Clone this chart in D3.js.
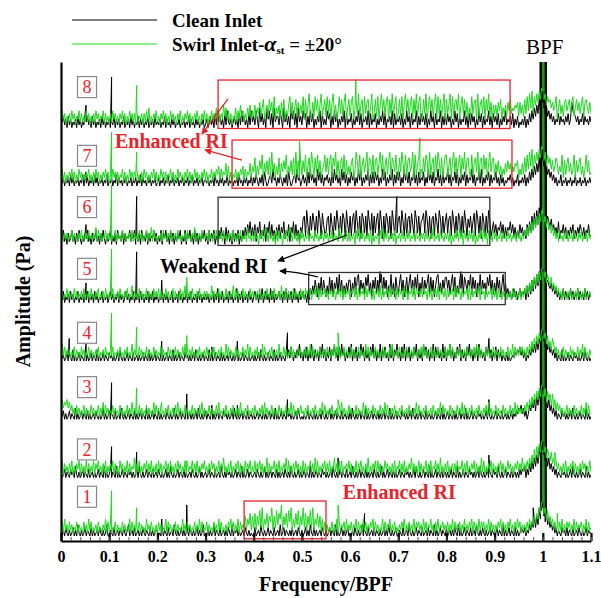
<!DOCTYPE html>
<html>
<head>
<meta charset="utf-8">
<script src="https://cdn.jsdelivr.net/npm/d3@7"></script>
<style>
  body { margin: 0; background: #fff; }
  text { font-family: "Liberation Serif", "Times New Roman", serif; }
</style>
</head>
<body>
<script>
"use strict";

// ---- data -------------------------------------------------------------
// broadband spectra: one chunk per 0.1 BPF, one hex digit per bin (0.0025 BPF),
// amplitude in arbitrary units above each trace's baseline; last entry is 1.1.
// Index 0 = probe 1 (bottom trace).
var chunkWidth = 0.1;
var traceLabels = ["1", "2", "3", "4", "5", "6", "7", "8"];
var traceStep = 20.7;   // vertical spacing between spectra
var traceBase = 1.8;

var cleanNoise = [
  ["1020310201302041020130210302012031020140","0210301202103102401203012020310210302012","2010302103012041020130201203102013020140","1030201402103012020310402130201203102010","0301204102013021030120401302102030120310","2013020410302012031020130210402013020130","1020310201402103012030210201302041020130","0210301204102013021030120302104020130210","3012020310402013021030120410203102013021","0130210402013021030201321302142536374a69","a758463524130210312030210301203102013021","1"],
  ["2013021031204102013021030120201302104020","1302104020130210312020130410201302103012","0310201302041020130210302012031020140201","2013021030120410203120201302104020130210","1203102014020130210302012031020410201302","0130210402013021031202013041020130210301","2041020130210302012031020140201302103020","1302103120201304102013021040201302103012","0201302104020130210312020130410201302103","1204102013021030120203132403152637485b7a","a869473524130210312020130410201302104020","1"],
  ["4130201302104020130210302012031020140201","3021030120410201302103020130210402013021","0302012031020140201302103012020130410201","3021040201302103120201304102013021030120","2013021030201302104020130210312020130410","1020130210302012031020140201302103012020","3041020130210402013021030201302104020130","2103120201304102013021030120201302104020","1302103020130210402013021031202013041020","1302103012020130213243524130253647385a69","a968473524130210312020130410201302104020","1"],
  ["3120130210402013021030201302104020130210","3120201304102013021030120201302104020130","2103020130210402013021031202013041020130","2104020130210302012031020140201302103012","0201304102013021040201302103141520314261","3041503162041305261403150426130516240315","2604150316250413052614031604251306150426","1305160425031526041306251403160524130615","0426140315260413052614031506241305261403","1504130210302012132435241302142536374869","9758463524130210402013021031202013041020","1"],
  ["3140213041302140213031402130413021402130","2413021403130241302140213041302140314021","3021403130214021304130214031402130413021","3130214031503140213041302150314021304130","2413031502413051403124130415031402513041","2413041536385274938526394827593a48263748","8274939a3857396a4728593847a3958264a37295","37a4825937a48395a27493857a3948269a473859","95837a4926385a397486a3958274a3857396a483","7395826a473524135241352435162738495a6b7c","b9a7865746352413251423152413251423152413","2"],
  ["4251304125130415203142513041251304152031","2503140523150413251425031405231504132514","0315042513051403142503150425130514031425","1305142503152634062513051425031526374836","3716482537164827351637264825371648273516","49a3c72a5b83a4c92b7449a3b72a5c83a4b92c74","a39b4c83a2b94a3c84b3a49b3c82a3b94a2c83b4","9a4c83b39a4b73c94a389b4c93a29a3b84c93a48","b49a3c84a3b93a4c8396a48b3c94a2b83a4c9358","4736584726365847362537463527384a5b6c7d8e","d9b7a86957463825473625364725364753625473","3"],
  ["4130213041302130214041302130413021302140","2130214031203130213021302140312031302130","1302130214021302130213021302140213021302","2130213041203130214021302130412031302140","3142031405201341623031420314052013416230","2413051624130625140324130516241306251403","1524031625031426041515240316250314260415","2503162415032614051325031624150326140513","2614032516031425041326140325160314250413","2513041302132413021402131403152637485a6b","9758463524130214021302130214021302130213","1"],
  ["5241304130213041302152413041302130413021","3021403130214021304130214031302140213041","2130214031203130213021302140312031302130","1302413051624130516213024130516241305162","4163072514073615072441630725140736150724","1635041625031426051316350416250314260513","2503142615032416051325031426150324160513","2415031624051326041524150316240513260415","1524031625041326140515240316250413261405","2415031426132415031402131403152637485a6b","9758463524132514231425139654241325142314","2"]
];

var swirlNoise = [
  ["3516241524132514231524162513241523142615","2413251423152413261524132514231624152314","1524132615241325142316241524132514261523","2514231524162513241536251426152437264827","3827493a2648375a2739486b2748395a26384927","4a3827493a264837261524132514261524351624","2514361524162514253615241326152436142513","1425361425142615352416251436241526143524","2514261524351426142536152416253514261524","1425361524153624152635142415263547586a8c","c8a6957463524152614253514261524351426152","3"],
  ["4615241526142536152416251426153624152614","2536152416351426152437152614253615261425","1625143625162415263514261524361526142536","2415263514261537241526142536152416253614","2615362514271524361526142537162415263514","1625143625172614253615261437251626143526","2514261536241527142536162514263524152614","3615261425371524162514361526143625172415","2614352516243615261425361524172614253615","241536251426352415362537253637485a6b7c9d","d9b7a86957463524152614253615241526351426","2"],
  ["5746574635241524132514231524132514261524","1325142315241325142614231524132514231625","2415231425132415261423152413251423152614","1325142315261324152314251324162314251324","1523142516241325142315241325142615231425","2314251324152314261523142513241526142315","2413251423162514231524132514261523142513","1425132415231426152314251324152314261524","2315241325142615231425132415231425162413","25142315241325142615242425363748596a7b8c","c8b6a79584736352413251423152413251426152","2"],
  ["3625142413251423152413251423142513241523","1425132415231425132614231524132514231524","1325142315241325142315261324152314251324","1523142513241523162514231524132514261523","1425132415231425132416231524132514231524","1325142615231425132415231426152413251423","1524132514231625142315241325142315261324","1523142513241523142516241325142315241325","1426152314251324152314251625142315241325","1423152413251426152425352415263748596a7b","b8a6957486352413251423152413251426152314","2"],
  ["2413251423152413241513241523142513241523","1425132415231425132614231524132514231524","2514231524132514231514261324152314251324","1423152413251423152413261524132514231524","2314251324152314251324162315241325142315","2415342514352615243524153425143526152435","1435261524351625341514352615243516253415","2534162514352615342525341625143526153425","1524351625341524351615243526153415243516","24152314251324152413251425363748596a7b8c","c9b7a86957463524152314251324152314251324","2"],
  ["3514241325142314251324152314261524132514","2413251423152413241514231524132514261523","1324152314251324152313241523142613241523","2415231425132415231424152314251324162314","1523042513641523140515230425136415231405","2413251423152413251424132514231624132514","1324052614251324150313240526142513241503","2415231425132415231424152314261324152314","2415031425162405231524150314251624052315","24132514231524132415231425363748596a7b8c","b8a6957463524152314251324152314251324152","2"],
  ["3625142536251426352425362415263514253625","1426352514362514263525362415263514253625","1426352514362514263524153625142635241536","2514362536472635483725143625364726354837","5a37496b38594a3c58374a38596b37594a3c4938","495b37a4c83a5b49367b5a49b3a7c4938a5b3947","48a35c94b37a58c3a94b39a48c5b37a49c3a85b4","3a5c84b39a57c3b48a364a5b93c48a3b5c94a37b","b47a39c5a48b3a6c49a53b48a5c39a4b6a38c59a","3859473648596847587936484a5b6c7d5b8c9dae","d9c7b8a6957a8475b3948a5846b3958a4736b594","5"],
  ["2635142526351436252426351425263514362524","1526352415362514263525162435152637142536","2415362514263524153614253625142536241536","2514263537462538473625143726384625374836","48375947a3584a694b3758394a3648b5937a4958","5b3a48c5394b6a38c47a4b5a39c4836b5a49c37a","49b36a5c48a3b59a47c35a4b38c6a49b3a5c48b3","5a4b39c6a48b3a5c49b34a5c38b6a49c3b5a48c3","a58c3b49a6c38b5a49374b59a3c48a5b3a6c4938","58496a3758496a57687949584a5b6c7d5b8c9dae","dac8b9a7968b37a5849a68a59b47a6958b49a759","5"]
];

// narrow-band tones (shaft harmonics etc.): [frequency/BPF, amplitude]
var cleanTones = [
  [[0.209, 6], [0.261, 11], [0.63, 8], [0.98, 10]],
  [[0.105, 11], [0.157, 9], [0.575, 7], [0.888, 8]],
  [[0.105, 13], [0.261, 9], [0.313, 5], [0.366, 5], [0.47, 7], [0.888, 7]],
  [[0.017, 8], [0.052, 6], [0.209, 7], [0.313, 5], [0.366, 7], [0.47, 10], [0.888, 8]],
  [[0.052, 7], [0.157, 18], [0.209, 8], [0.662, 11], [0.83, 11]],
  [[0.052, 7], [0.157, 17], [0.697, 17]],
  [[0.052, 5]],
  [[0.052, 8], [0.105, 18]]
];
var swirlTones = [
  [[0.105, 16], [0.157, 10], [0.575, 11], [1.03, 8]],
  [[0.261, 6], [0.366, 5], [1.025, 9]],
  [[0.157, 11], [0.209, 6], [0.418, 5], [0.575, 7], [1.02, 9]],
  [[0.105, 17], [0.157, 12], [0.261, 9], [0.418, 6], [0.575, 10]],
  [[0.105, 19], [0.261, 9], [0.313, 6]],
  [[0.105, 21]],
  [[0.105, 19], [0.157, 12], [0.495, 16], [0.745, 17]],
  [[0.157, 15], [0.612, 17]]
];

// blade passing frequency peak, far above the plotted range
var bpfAmp = 200;
var bpfClean = [0.995, 0.997, 0.999, 1.001, 1.003, 1.005];
var bpfSwirl = [1.0];

// highlighted regions: trace index, frequency range, amplitude range
var regions = [
  { trace: 7, from: 0.326, to: 0.932, lo: -0.3, hi: 16.9, kind: "enhanced" },
  { trace: 6, from: 0.355, to: 0.936, lo: -0.8, hi: 16.3, kind: "enhanced" },
  { trace: 5, from: 0.326, to: 0.890, lo: -0.4, hi: 16.7, kind: "weakened" },
  { trace: 4, from: 0.514, to: 0.922, lo: -0.7, hi: 10.7, kind: "weakened" },
  { trace: 0, from: 0.380, to: 0.550, lo: -1.0, hi: 12.4, kind: "enhanced" }
];

var xTickValues = [0, 0.1, 0.2, 0.3, 0.4, 0.5, 0.6, 0.7, 0.8, 0.9, 1, 1.1];

// ---- layout -------------------------------------------------------------
var W = 601, H = 598;
var plot = { left: 61, right: 591, top: 62, bottom: 541 };
var labelLift = [13.9, 10, 11.4, 10, 12, 13.2, 10.7, 14.4];
var red = "#e8232a", green = "#1ed81e";

var x = d3.scaleLinear().domain([0, 1.1]).range([plot.left, plot.right]);
var y = d3.scaleLinear().domain([0, 170]).range([plot.bottom, plot.top]);

var svg = d3.select("body").append("svg")
  .attr("width", W).attr("height", H);

var defs = svg.append("defs");
defs.append("clipPath").attr("id", "clip")
  .append("rect")
  .attr("x", plot.left).attr("y", plot.top)
  .attr("width", plot.right - plot.left).attr("height", plot.bottom - plot.top);
[["arrowRed", red], ["arrowBlack", "#000"]].forEach(function (m) {
  defs.append("marker").attr("id", m[0])
    .attr("viewBox", "0 0 10 10").attr("refX", 9).attr("refY", 5)
    .attr("markerWidth", 9).attr("markerHeight", 7)
    .attr("markerUnits", "userSpaceOnUse")
    .attr("orient", "auto")
    .append("path").attr("d", "M0,0 L10,5 L0,10 Z").attr("fill", m[1]);
});

function offset(i) { return traceBase + i * traceStep; }

function buildSeries(chunks, tones, bpf) {
  var pts = [];
  chunks.forEach(function (c, k) {
    var step = chunkWidth / c.length;
    c.split("").forEach(function (ch, j) {
      pts.push([k * chunkWidth + j * step, parseInt(ch, 16)]);
    });
  });
  tones.forEach(function (t) { pts.push([t[0], t[1]]); });
  bpf.forEach(function (f) { pts.push([f, bpfAmp]); });
  pts.sort(function (a, b) { return a[0] - b[0]; });
  return pts;
}

var traces = svg.append("g").attr("clip-path", "url(#clip)");

traceLabels.forEach(function (lab, i) {
  var line = d3.line()
    .x(function (d) { return x(d[0]); })
    .y(function (d) { return y(offset(i) + d[1]); });
  var g = traces.append("g").attr("class", "trace-" + lab);
  g.append("path")
    .datum(buildSeries(cleanNoise[i], cleanTones[i], bpfClean))
    .attr("fill", "none").attr("stroke", "#000").attr("stroke-width", 1)
    .attr("d", line);
  g.append("path")
    .datum(buildSeries(swirlNoise[i], swirlTones[i], bpfSwirl))
    .attr("fill", "none").attr("stroke", green).attr("stroke-width", 1)
    .attr("d", line);
});

// highlight boxes
svg.append("g").selectAll("rect")
  .data(regions).enter().append("rect")
  .attr("x", function (d) { return x(d.from); })
  .attr("y", function (d) { return y(offset(d.trace) + d.hi); })
  .attr("width", function (d) { return x(d.to) - x(d.from); })
  .attr("height", function (d) { return y(offset(d.trace) + d.lo) - y(offset(d.trace) + d.hi); })
  .attr("fill", "none")
  .attr("stroke", function (d) { return d.kind === "enhanced" ? red : "#333"; })
  .attr("stroke-width", 1.3);

// trace number boxes
var tags = svg.append("g").selectAll("g")
  .data(traceLabels).enter().append("g")
  .attr("transform", function (d, i) {
    return "translate(" + x(0.054) + "," + y(offset(i) + labelLift[i]) + ")";
  });
tags.append("rect")
  .attr("x", -9.5).attr("y", -10.5).attr("width", 19).attr("height", 21)
  .attr("fill", "#fff").attr("stroke", "#888").attr("stroke-width", 1.2);
tags.append("text")
  .attr("text-anchor", "middle").attr("dy", "0.35em")
  .attr("fill", red).style("font-size", "18px")
  .text(function (d) { return d; });

// axes
var xAxis = d3.axisBottom(x).tickValues(xTickValues)
  .tickSize(-8).tickSizeOuter(0).tickPadding(10)
  .tickFormat(d3.format("~g"));
var gx = svg.append("g").attr("transform", "translate(0," + plot.bottom + ")").call(xAxis);
gx.select(".domain").attr("stroke-width", 2.2);
gx.selectAll(".tick line").attr("stroke-width", 2.2);
gx.selectAll(".tick text")
  .style("font-family", "'Liberation Serif', serif")
  .style("font-size", "16px").style("font-weight", "bold").attr("fill", "#000");

var minor = d3.range(0, 1.1001, 0.02);
var gm = svg.append("g").attr("transform", "translate(0," + plot.bottom + ")")
  .call(d3.axisBottom(x).tickValues(minor).tickSize(-4).tickSizeOuter(0).tickFormat(""));
gm.select(".domain").remove();
gm.selectAll(".tick line").attr("stroke", "#555");

var gy = svg.append("g").attr("transform", "translate(" + plot.left + ",0)")
  .call(d3.axisLeft(y).tickValues([]).tickSizeOuter(0));
gy.select(".domain").attr("stroke-width", 2.2);

// titles
svg.append("text")
  .attr("x", (plot.left + plot.right) / 2).attr("y", 591)
  .attr("text-anchor", "middle")
  .style("font-size", "20px").style("font-weight", "bold")
  .text("Frequency/BPF");
svg.append("text")
  .attr("transform", "translate(30," + (plot.top + plot.bottom) / 2 + ") rotate(-90)")
  .attr("text-anchor", "middle")
  .style("font-size", "20px").style("font-weight", "bold")
  .text("Amplitude (Pa)");
svg.append("text")
  .attr("x", x(1.004)).attr("y", 54)
  .attr("text-anchor", "middle")
  .style("font-size", "21px")
  .text("BPF");

// legend
var legend = svg.append("g");
legend.append("line").attr("x1", 72).attr("x2", 157).attr("y1", 20).attr("y2", 20)
  .attr("stroke", "#000").attr("stroke-width", 1.2);
legend.append("text").attr("x", 172).attr("y", 27)
  .style("font-size", "19px").style("font-weight", "bold").text("Clean Inlet");
legend.append("line").attr("x1", 72).attr("x2", 157).attr("y1", 44).attr("y2", 44)
  .attr("stroke", green).attr("stroke-width", 1.2);
var sw = legend.append("text").attr("x", 172).attr("y", 51)
  .style("font-size", "19px").style("font-weight", "bold");
sw.append("tspan").text("Swirl Inlet-");
sw.append("tspan").style("font-style", "italic").style("font-size", "22px").text("α");
sw.append("tspan").attr("dy", 3).style("font-size", "11px").text("st");
sw.append("tspan").attr("dy", -3).text(" = ±20°");

// annotations (placed in data coordinates)
var ann = svg.append("g");
ann.append("text").attr("x", x(0.112)).attr("y", y(139.5))
  .attr("fill", red).style("font-size", "20px").style("font-weight", "bold")
  .text("Enhanced RI");
ann.append("line")
  .attr("x1", x(0.3465)).attr("y1", y(156.9)).attr("x2", x(0.2925)).attr("y2", y(144.4))
  .attr("stroke", red).attr("stroke-width", 1.3).attr("marker-end", "url(#arrowRed)");
ann.append("line")
  .attr("x1", x(0.3755)).attr("y1", y(135.2)).attr("x2", x(0.2988)).attr("y2", y(138.8))
  .attr("stroke", red).attr("stroke-width", 1.3).attr("marker-end", "url(#arrowRed)");

ann.append("text").attr("x", x(0.2054)).attr("y", y(95.1))
  .attr("fill", "#000").style("font-size", "20px").style("font-weight", "bold")
  .text("Weakend RI");
ann.append("line")
  .attr("x1", x(0.5934)).attr("y1", y(108.6)).attr("x2", x(0.4502)).attr("y2", y(99.4))
  .attr("stroke", "#000").attr("stroke-width", 1.3).attr("marker-end", "url(#arrowBlack)");
ann.append("path")
  .attr("d", "M" + x(0.5332) + "," + y(93.7) + " Q" + x(0.49) + "," + y(95.6) + " " + x(0.4544) + "," + y(95.8))
  .attr("fill", "none").attr("stroke", "#000").attr("stroke-width", 1.3)
  .attr("marker-end", "url(#arrowBlack)");

ann.append("text").attr("x", x(0.585)).attr("y", y(14.9))
  .attr("fill", red).style("font-size", "20px").style("font-weight", "bold")
  .text("Enhanced RI");
</script>
</body>
</html>
